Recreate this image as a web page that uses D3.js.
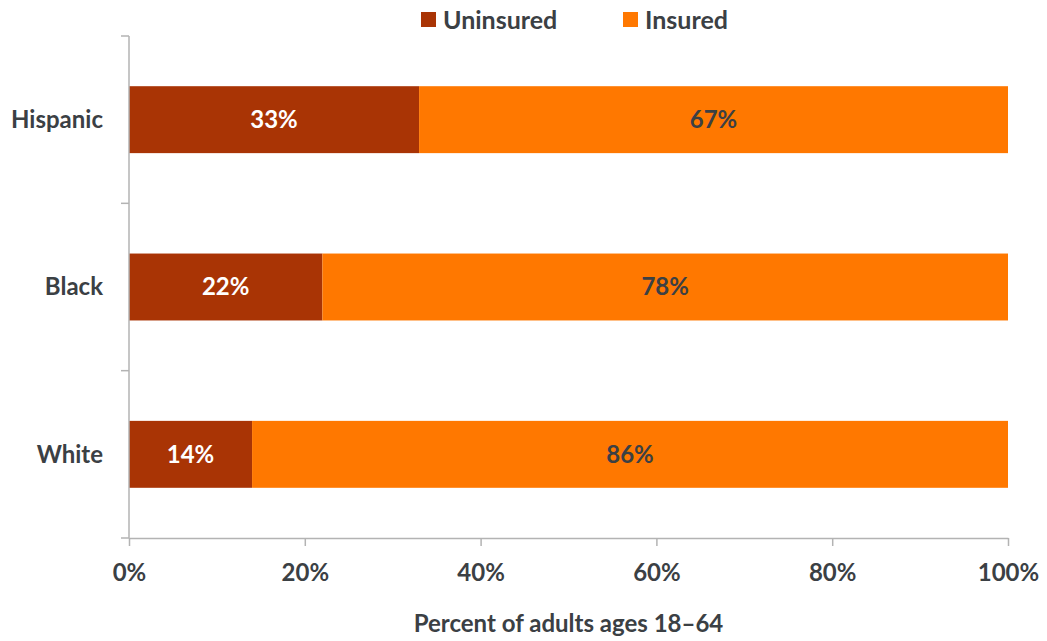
<!DOCTYPE html>
<html>
<head>
<meta charset="utf-8">
<script src="https://cdn.jsdelivr.net/npm/d3@7"></script>
<style>
  html, body { margin: 0; padding: 0; background: #fff; }
  svg text { font-family: Lato, "Open Sans", sans-serif; font-weight: 700; }
</style>
</head>
<body>
<svg id="chart" width="1047" height="641"></svg>
<script>
// Health insurance coverage by race/ethnicity, adults 18–64
const groups = ["Hispanic", "Black", "White"];
const uninsured = [33, 22, 14];
const insured = [67, 78, 86];
const seriesNames = ["Uninsured", "Insured"];
const xTicks = [0, 20, 40, 60, 80, 100];

const colors = { Uninsured: "#A93405", Insured: "#FF7800" };
const textDark = "#3b4044";

const svg = d3.select("#chart");
const margin = { left: 129, right: 39, top: 36, bottom: 103 };
const W = 1047, H = 641;

const x = d3.scaleLinear().domain([0, 100]).range([margin.left, W - margin.right]);
const y = d3.scaleBand().domain(groups).range([margin.top, H - margin.bottom]).paddingInner(0.6).paddingOuter(0.3);

const rows = groups.map((g, i) => ({ group: g, Uninsured: uninsured[i], Insured: insured[i] }));
const stacked = d3.stack().keys(seriesNames)(rows);

// Bars
svg.append("g").selectAll("g").data(stacked).join("g")
  .attr("fill", d => colors[d.key])
  .selectAll("rect").data(d => d).join("rect")
  .attr("x", d => x(d[0]))
  .attr("width", d => x(d[1]) - x(d[0]))
  .attr("y", d => y(d.data.group))
  .attr("height", y.bandwidth());

// Value labels
stacked.forEach(s => {
  svg.append("g").selectAll("text").data(s).join("text")
    .attr("x", d => (x(d[0]) + x(d[1])) / 2)
    .attr("y", d => y(d.data.group) + y.bandwidth() / 2)
    .attr("dy", "0.35em")
    .attr("text-anchor", "middle")
    .attr("font-size", 24)
    .attr("fill", s.key === "Uninsured" ? "#ffffff" : textDark)
    .text(d => (d[1] - d[0]) + "%");
});

// X axis
const xAxis = svg.append("g")
  .attr("transform", `translate(0,${H - margin.bottom})`)
  .call(d3.axisBottom(x).tickValues(xTicks).tickFormat(d => d + "%").tickSize(8).tickPadding(18).tickSizeOuter(0));
xAxis.select(".domain").attr("stroke", "#b3b3b3").attr("stroke-width", 1.5);
xAxis.selectAll(".tick line").attr("stroke", "#b3b3b3").attr("stroke-width", 1.5);
xAxis.selectAll(".tick text").attr("font-size", 24).attr("fill", textDark)
  .attr("font-family", "Lato, sans-serif").attr("font-weight", 700);

// Y axis: line with ticks at band boundaries
const yLine = svg.append("g");
yLine.append("line")
  .attr("x1", x(0)).attr("x2", x(0))
  .attr("y1", margin.top).attr("y2", H - margin.bottom)
  .attr("stroke", "#b3b3b3").attr("stroke-width", 1.5);
const bounds = d3.range(groups.length + 1).map(i => margin.top + i * (H - margin.top - margin.bottom) / groups.length);
yLine.selectAll("line.tk").data(bounds).join("line").attr("class", "tk")
  .attr("x1", x(0) - 8).attr("x2", x(0))
  .attr("y1", d => d).attr("y2", d => d)
  .attr("stroke", "#b3b3b3").attr("stroke-width", 1.5);

yLine.selectAll("text").data(groups).join("text")
  .attr("x", x(0) - 26)
  .attr("y", d => y(d) + y.bandwidth() / 2)
  .attr("dy", "0.35em")
  .attr("text-anchor", "end")
  .attr("font-size", 24)
  .attr("fill", textDark)
  .text(d => d);

// Axis title
svg.append("text")
  .attr("x", (x(0) + x(100)) / 2)
  .attr("y", 632)
  .attr("text-anchor", "middle")
  .attr("font-size", 24)
  .attr("fill", textDark)
  .text("Percent of adults ages 18–64");

// Legend
const legend = svg.append("g");
const legendX = [421, 623];
seriesNames.forEach((name, i) => {
  const g = legend.append("g").attr("transform", `translate(${legendX[i]},12)`);
  g.append("rect").attr("width", 15).attr("height", 15).attr("fill", colors[name]);
  g.append("text").attr("x", 22).attr("y", 8).attr("dy", "0.35em")
    .attr("font-size", 25).attr("fill", textDark).text(name);
});
</script>
</body>
</html>
